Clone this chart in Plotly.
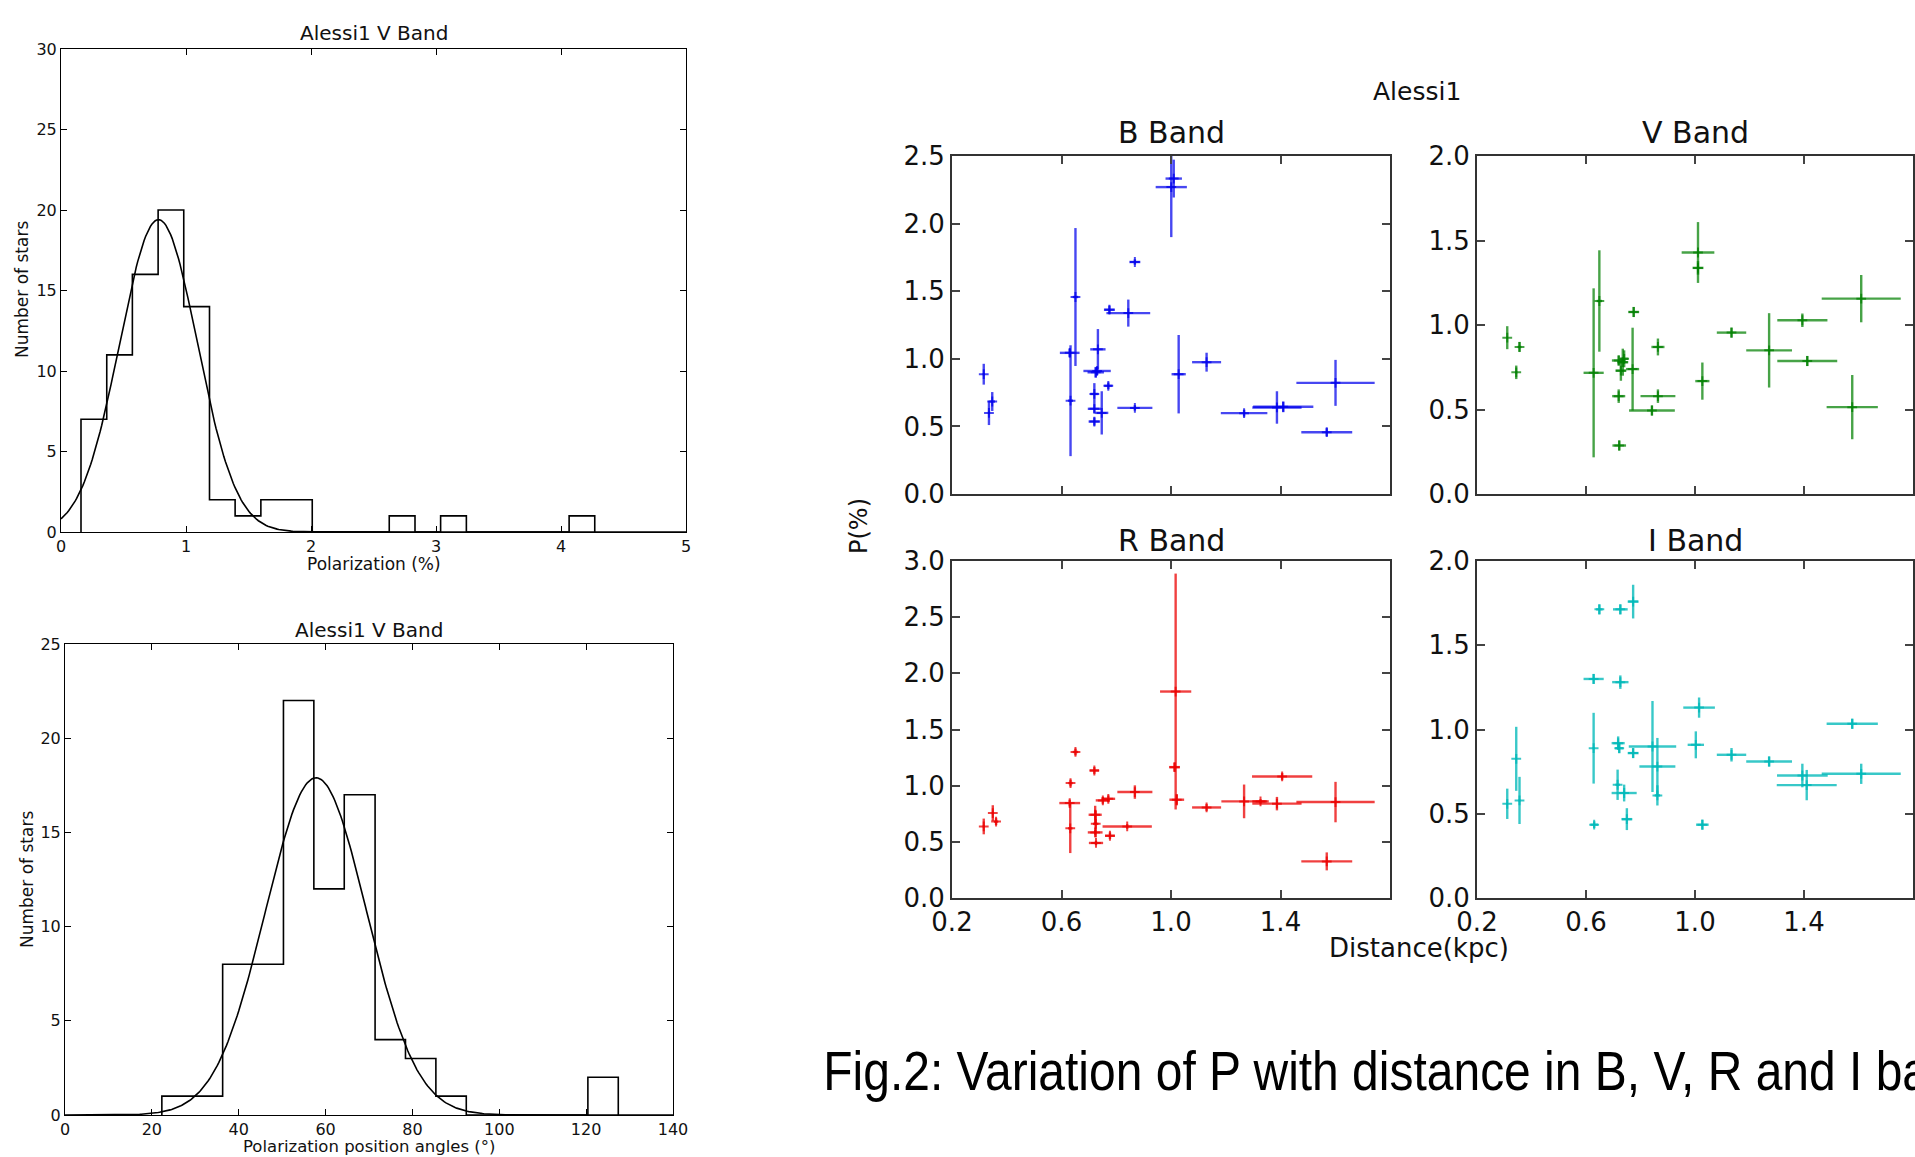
import numpy as np
import plotly.graph_objects as go

W, H = 1915, 1157

# ---------------- Histogram data ----------------
pol_edges = [0.16, 0.366, 0.571, 0.777, 0.982, 1.188, 1.393, 1.599, 1.804, 2.01, 2.215,
             2.421, 2.626, 2.832, 3.037, 3.243, 3.448, 3.654, 3.859, 4.065, 4.27]
pol_counts = [7, 11, 16, 20, 14, 2, 1, 2, 2, 0, 0, 0, 1, 0, 1, 0, 0, 0, 0, 1]
pol_fit = dict(amp=19.4, mu=0.78, sigma=0.31)

ang_edges = [22.3, 29.3, 36.3, 43.3, 50.3, 57.3, 64.3, 71.4, 78.4, 85.4, 92.4,
             99.4, 106.4, 113.4, 120.4, 127.4]
ang_counts = [1, 1, 8, 8, 22, 12, 17, 4, 3, 1, 0, 0, 0, 0, 2]
ang_fit = dict(amp=17.9, mu=57.8, sigma=11.6)

# ---------------- P vs distance data ----------------
B_x = [0.316, 0.335, 0.347, 0.630, 0.633, 0.651, 0.733, 0.730, 0.725, 0.771, 0.720, 0.720, 0.747, 0.720,
       0.775, 0.844, 0.868, 0.868, 1.001, 1.010, 1.028, 1.130, 1.267, 1.387, 1.410, 1.601, 1.569]
B_y = [0.886, 0.600, 0.684, 1.044, 0.690, 1.457, 1.070, 0.910, 0.900, 0.800, 0.740, 0.630, 0.600, 0.536,
       1.363, 1.338, 1.716, 0.637, 2.270, 2.333, 0.886, 0.975, 0.598, 0.640, 0.645, 0.822, 0.457]
B_xerr = [0.004, 0.004, 0.010, 0.036, 0.009, 0.010, 0.028, 0.050, 0.030, 0.015, 0.015, 0.024, 0.024, 0.021,
          0.020, 0.080, 0.020, 0.064, 0.057, 0.030, 0.026, 0.053, 0.085, 0.090, 0.110, 0.143, 0.093]
B_yerr = [0.077, 0.090, 0.070, 0.030, 0.410, 0.510, 0.150, 0.030, 0.040, 0.025, 0.080, 0.030, 0.160, 0.030,
          0.030, 0.100, 0.020, 0.020, 0.370, 0.140, 0.290, 0.070, 0.025, 0.120, 0.040, 0.170, 0.030]

V_x = [0.311, 0.356, 0.344, 0.628, 0.649, 0.720, 0.735, 0.740, 0.728, 0.771, 0.775, 0.720, 0.722,
       0.864, 0.864, 0.842, 1.011, 1.011, 1.027, 1.134, 1.272, 1.394, 1.412, 1.610, 1.577]
V_y = [0.925, 0.870, 0.720, 0.717, 1.142, 0.790, 0.780, 0.800, 0.730, 0.739, 1.077, 0.579, 0.287,
       0.870, 0.579, 0.494, 1.429, 1.338, 0.668, 0.955, 0.850, 1.028, 0.787, 1.156, 0.514]
V_xerr = [0.003, 0.007, 0.004, 0.037, 0.010, 0.025, 0.020, 0.015, 0.020, 0.024, 0.020, 0.024, 0.025,
          0.024, 0.064, 0.084, 0.060, 0.020, 0.026, 0.054, 0.084, 0.092, 0.110, 0.145, 0.094]
V_yerr = [0.068, 0.030, 0.040, 0.500, 0.300, 0.030, 0.080, 0.050, 0.060, 0.245, 0.030, 0.040, 0.030,
          0.050, 0.040, 0.030, 0.180, 0.040, 0.110, 0.030, 0.220, 0.040, 0.030, 0.140, 0.190]

R_x = [0.316, 0.349, 0.361, 0.630, 0.632, 0.633, 0.651, 0.720, 0.723, 0.725, 0.840, 0.723, 0.726, 0.777,
       0.751, 0.771, 0.868, 1.017, 1.013, 1.021, 1.130, 1.267, 1.327, 1.387, 1.406, 1.601, 1.569]
R_y = [0.637, 0.756, 0.680, 0.845, 0.620, 1.023, 1.300, 1.135, 0.741, 0.660, 0.637, 0.584, 0.490, 0.554,
       0.869, 0.883, 0.943, 1.838, 1.165, 0.875, 0.806, 0.860, 0.860, 0.840, 1.082, 0.854, 0.326]
R_xerr = [0.004, 0.004, 0.008, 0.038, 0.008, 0.008, 0.010, 0.017, 0.024, 0.010, 0.090, 0.027, 0.026, 0.018,
          0.026, 0.025, 0.064, 0.057, 0.020, 0.027, 0.053, 0.083, 0.030, 0.090, 0.110, 0.143, 0.093]
R_yerr = [0.070, 0.070, 0.030, 0.030, 0.220, 0.030, 0.030, 0.030, 0.080, 0.120, 0.020, 0.020, 0.020, 0.030,
          0.030, 0.030, 0.060, 1.050, 0.040, 0.050, 0.030, 0.150, 0.020, 0.060, 0.030, 0.180, 0.080]

I_x = [0.311, 0.344, 0.356, 0.628, 0.628, 0.630, 0.649, 0.726, 0.773, 0.726, 0.718, 0.722, 0.773, 0.844,
       0.862, 0.862, 0.716, 0.740, 0.750, 1.015, 1.003, 1.027, 1.134, 1.272, 1.394, 1.410, 1.577, 1.610]
I_y = [0.559, 0.826, 0.579, 1.300, 0.889, 0.435, 1.713, 1.713, 1.759, 1.281, 0.919, 0.889, 0.860, 0.899,
       0.780, 0.609, 0.672, 0.623, 0.468, 1.130, 0.909, 0.435, 0.850, 0.810, 0.727, 0.670, 1.034, 0.737]
I_xerr = [0.003, 0.003, 0.004, 0.037, 0.004, 0.014, 0.012, 0.027, 0.020, 0.030, 0.024, 0.015, 0.020, 0.087,
          0.066, 0.010, 0.008, 0.046, 0.020, 0.058, 0.030, 0.023, 0.054, 0.084, 0.093, 0.110, 0.094, 0.145]
I_yerr = [0.090, 0.190, 0.140, 0.030, 0.210, 0.020, 0.030, 0.030, 0.100, 0.040, 0.040, 0.030, 0.030, 0.270,
          0.170, 0.060, 0.090, 0.050, 0.065, 0.060, 0.080, 0.030, 0.040, 0.030, 0.070, 0.090, 0.030, 0.060]

bands = [
    ("B Band", B_x, B_y, B_xerr, B_yerr, "rgba(0,0,235,0.72)", 2.5),
    ("V Band", V_x, V_y, V_xerr, V_yerr, "rgba(0,128,0,0.72)", 2.0),
    ("R Band", R_x, R_y, R_xerr, R_yerr, "rgba(235,0,0,0.75)", 3.0),
    ("I Band", I_x, I_y, I_xerr, I_yerr, "rgba(0,185,185,0.78)", 2.0),
]

# ---------------- helpers ----------------
def px(x):
    return x / W

def py(y):
    return 1 - y / H

FONT = "DejaVu Sans"
fig = go.Figure()

def step_xy(edges, counts):
    xs = [edges[0]] + list(edges[:-1]) + [edges[-1]]
    ys = [0] + list(counts) + [0]
    return xs, ys

def gauss_curve(fit, lo, hi, n=400):
    xs = np.linspace(lo, hi, n)
    ys = fit["amp"] * np.exp(-(xs - fit["mu"]) ** 2 / (2 * fit["sigma"] ** 2))
    return xs, ys

# ---- histograms ----
hx, hy = step_xy(pol_edges, pol_counts)
fig.add_trace(go.Scatter(x=hx, y=hy, mode="lines", line=dict(color="black", width=1.6, shape="hv"),
                         xaxis="x", yaxis="y", showlegend=False))
gx, gy = gauss_curve(pol_fit, 0, 5)
fig.add_trace(go.Scatter(x=gx, y=gy, mode="lines", line=dict(color="black", width=1.6),
                         xaxis="x", yaxis="y", showlegend=False))

hx, hy = step_xy(ang_edges, ang_counts)
fig.add_trace(go.Scatter(x=hx, y=hy, mode="lines", line=dict(color="black", width=1.6, shape="hv"),
                         xaxis="x2", yaxis="y2", showlegend=False))
gx, gy = gauss_curve(ang_fit, 0, 140)
fig.add_trace(go.Scatter(x=gx, y=gy, mode="lines", line=dict(color="black", width=1.6),
                         xaxis="x2", yaxis="y2", showlegend=False))

# ---- error-bar panels ----
for i, (name, bx, by, bxe, bye, col, ymax) in enumerate(bands):
    ax = i + 3
    fig.add_trace(go.Scatter(
        x=bx, y=by, mode="markers",
        marker=dict(symbol="cross-thin", size=7, color=col, line=dict(color=col, width=2)),
        error_x=dict(type="data", array=bxe, symmetric=True, color=col, thickness=2.4, width=0),
        error_y=dict(type="data", array=bye, symmetric=True, color=col, thickness=2.4, width=0),
        xaxis=f"x{ax}", yaxis=f"y{ax}", showlegend=False, cliponaxis=True))

# ---- axes ----
hist_axis = dict(showline=True, linecolor="black", linewidth=1, mirror="ticks", ticks="inside",
                 ticklen=6, tickwidth=1, tickcolor="black", showgrid=False, zeroline=False,
                 automargin=False, tickfont=dict(family=FONT, size=16, color="#111"))

layout = dict(
    template="none",
    width=W, height=H, paper_bgcolor="white", plot_bgcolor="white",
    margin=dict(l=0, r=0, t=0, b=0, autoexpand=False),
    xaxis=dict(hist_axis, domain=[px(61), px(686)], range=[0, 5], tickvals=[0, 1, 2, 3, 4, 5],
               anchor="y"),
    yaxis=dict(hist_axis, domain=[py(532), py(49)], range=[0, 30], tickvals=[0, 5, 10, 15, 20, 25, 30],
               anchor="x"),
    xaxis2=dict(hist_axis, domain=[px(65), px(673)], range=[0, 140],
                tickvals=[0, 20, 40, 60, 80, 100, 120, 140], anchor="y2"),
    yaxis2=dict(hist_axis, domain=[py(1115), py(644)], range=[0, 25], tickvals=[0, 5, 10, 15, 20, 25],
                anchor="x2"),
)

panel_axis = dict(showline=True, linecolor="#333", linewidth=2, mirror="ticks", ticks="inside",
                  ticklen=8, tickwidth=1.5, tickcolor="#444", showgrid=False, zeroline=False,
                  automargin=False, tickfont=dict(family=FONT, size=26, color="#111"))

xdoms = [[px(952), px(1390)], [px(1477), px(1913)]]
ydoms = [[py(494), py(156)], [py(898), py(561)]]
for i, (name, bx, by, bxe, bye, col, ymax) in enumerate(bands):
    ax = i + 3
    r, c = divmod(i, 2)
    layout[f"xaxis{ax}"] = dict(panel_axis, domain=xdoms[c], range=[0.2, 1.8],
                                tickvals=[0.2, 0.6, 1.0, 1.4, 1.8], ticktext=["0.2", "0.6", "1.0", "1.4", ""],
                                showticklabels=(r == 1), anchor=f"y{ax}")
    layout[f"yaxis{ax}"] = dict(panel_axis, domain=ydoms[r], range=[0, ymax],
                                tickvals=list(np.arange(0, ymax + 0.01, 0.5)), tickformat=".1f",
                                anchor=f"x{ax}")

fig.update_layout(**layout)

# ---- text annotations ----
def ann(text, x, y, size, angle=0, family=FONT, xanchor="center", color="#111"):
    fig.add_annotation(text=text, x=px(x), y=py(y), xref="paper", yref="paper", showarrow=False,
                       xanchor=xanchor, yanchor="middle", textangle=angle,
                       font=dict(family=family, size=size, color=color))

ann("Alessi1 V Band", 374, 33, 20)
ann("Polarization (%)", 374, 564, 17)
ann("Number of stars", 22, 290, 17, angle=-90)
ann("Alessi1 V Band", 369, 630, 20)
ann("Polarization position angles (°)", 369, 1146, 16.5)
ann("Number of stars", 27, 880, 17, angle=-90)

ann("Alessi1", 1417, 92, 25)
ann("B Band", 1171, 133, 30)
ann("V Band", 1695, 133, 30)
ann("R Band", 1171, 540, 30)
ann("I Band", 1695, 540, 30)
ann("P(%)", 859, 526, 24, angle=-90)
ann("Distance(kpc)", 1419, 948, 26)

ann("Fig.2: Variation of P with distance in B, V, R and I bands.", 821, 1070, 56,
    family="Liberation Sans, Arial, sans-serif", xanchor="left", color="black")

# page setup: no body margin; condense the caption glyphs horizontally (narrow face in the original)
post = """
(function(){
  document.documentElement.style.margin = '0';
  document.body.style.margin = '0';
  document.body.style.padding = '0';
  var gd = document.getElementById('{plot_id}');
  function squeeze(){
    var ts = gd.querySelectorAll('text.annotation-text');
    ts.forEach(function(t){
      if (t.textContent.indexOf('Fig.2') === 0) {
        t.style.transformBox = 'fill-box';
        t.style.transformOrigin = '0% 50%';
        t.style.transform = 'scaleX(0.857)';
      }
    });
  }
  squeeze();
  if (gd && gd.on) { gd.on('plotly_afterplot', squeeze); }
})();
"""

fig.write_html("out.html", post_script=post, config={"displayModeBar": False})
